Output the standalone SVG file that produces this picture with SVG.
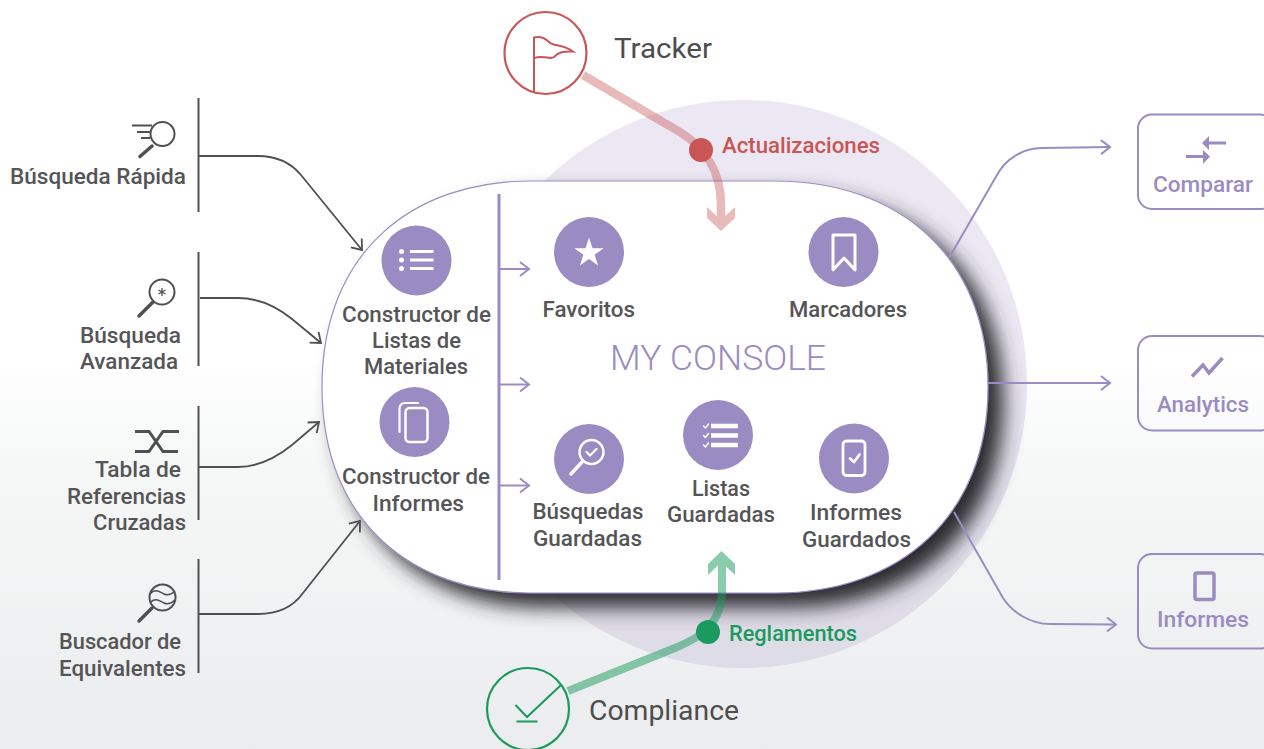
<svg xmlns="http://www.w3.org/2000/svg" width="1264" height="749" viewBox="0 0 1264 749">
<style>
text{font-family:Roboto,"Noto Sans","Liberation Sans",sans-serif;font-weight:500;fill:#555557;font-size:22px}
.big{font-size:28px;font-weight:400;fill:#4d4d4f}
.r{fill:#c95555}
.g{fill:#1a9a5e}
.ic{fill:#9a8cc2}
.w{fill:none;stroke:#fff;stroke-linecap:round;stroke-linejoin:round}
.d{fill:none;stroke:#505052;stroke-width:2}
.k{fill:none;stroke:#505052;stroke-width:1.8;marker-end:url(#ad)}
.v{fill:none;stroke:#9a8cc2;stroke-width:2;marker-end:url(#av)}
.pi{fill:none;stroke:#9a8cc2}
.box{fill:none;stroke:#9a8cc2;stroke-width:2}
</style>
<defs>
<linearGradient id="bg" x1="0" y1="0" x2="0" y2="1">
<stop offset="0" stop-color="#fff"/><stop offset=".48" stop-color="#fff"/><stop offset=".62" stop-color="#f6f7f7"/><stop offset="1" stop-color="#ebeced"/>
</linearGradient>
<filter id="sh" filterUnits="userSpaceOnUse" x="260" y="120" width="820" height="560">
<feGaussianBlur in="SourceAlpha" stdDeviation="10"/>
<feOffset dx="15" dy="14" result="b"/>
<feFlood flood-color="#2c2c30" flood-opacity="1"/>
<feComposite in2="b" operator="in"/>
<feMerge><feMergeNode/><feMergeNode in="SourceGraphic"/></feMerge>
</filter>
<marker id="ad" markerUnits="userSpaceOnUse" markerWidth="16" markerHeight="18" refX="12" refY="8" orient="auto" viewBox="0 0 16 16"><path d="M3 1L12 8L3 15" fill="none" stroke="#505052" stroke-width="1.8"/></marker>
<marker id="av" markerUnits="userSpaceOnUse" markerWidth="16" markerHeight="18" refX="12" refY="8" orient="auto" viewBox="0 0 16 16"><path d="M3 1L12 8L3 15" fill="none" stroke="#9a8cc2" stroke-width="2"/></marker>
</defs>
<rect id="background" width="1264" height="749" fill="url(#bg)"/>
<circle id="halo" cx="743" cy="384" r="284" fill="#9a8cc2" fill-opacity=".2"/>
<path id="console-panel" d="M322 387C322 250 415 181 530 181H775C900 181 988 258 988 387C988 516 900 593 775 593H530C415 593 322 524 322 387Z" fill="#fff" stroke="#9a8cc2" stroke-width="1.200" filter="url(#sh)"/>
<g id="connectors">
<path class="k" d="M198 156H258C278 156 291 163 301 175L362 250"/>
<path class="k" d="M200 298H238C258 298 277 307 292 319L321 343"/>
<path class="k" d="M198 467H238C258 467 277 457 292 445L319 422"/>
<path class="k" d="M198 614H258C278 614 293 607 303 593L360 521"/>
<path class="v" d="M949 258L997 175C1005 160 1022 148 1042 148L1110 147"/>
<path class="v" d="M988 383H1110"/>
<path class="v" d="M954 512L1003 598C1012 612 1030 624 1050 624L1116 624.500"/>
<path d="M499 194V580" fill="none" stroke="#9a8cc2" stroke-width="3"/>
<path class="v" d="M500 269H529"/>
<path class="v" d="M500 384.500H529"/>
<path class="v" d="M500 485.500H529"/>
<g opacity=".4"><path d="M583 75L680 132C705 148 721 170 721 205V222" fill="none" stroke="#c95555" stroke-width="8.500"/><path class="r" d="M707 207V218L721 231L735 218V207L721 220Z"/></g>
<g opacity=".5"><path d="M568 691L675 648C705 636 722 620 722 590V558" fill="none" stroke="#1a9a5e" stroke-width="8"/><path class="g" d="M708 575V564L721.500 551L735 564V575L721.500 562Z"/></g>
<circle class="r" cx="701" cy="150" r="12"/>
<circle class="g" cx="708" cy="632" r="12"/>
</g>
<g id="left-1">
<path class="d" d="M198.500 98V212"/>
<circle class="d" cx="162.500" cy="134" r="12"/>
<path d="M152 146L140 156.500" fill="none" stroke="#505052" stroke-width="3.500" stroke-linecap="round"/>
<path class="d" d="M132 125.500H152M137 132H150M141 138H150"/>
<text x="10" y="184" textLength="176" lengthAdjust="spacingAndGlyphs">Búsqueda Rápida</text>
</g>
<g id="left-2">
<path class="d" d="M198.500 252V366"/>
<circle class="d" cx="162" cy="292" r="12.500"/>
<path d="M153 302L139 316" fill="none" stroke="#505052" stroke-width="3.500" stroke-linecap="round"/>
<path d="M162 288V296M158.500 290L165.500 294M158.500 294L165.500 290" fill="none" stroke="#505052" stroke-width="1.300"/>
<text x="80" y="343" textLength="101" lengthAdjust="spacingAndGlyphs">Búsqueda</text>
<text x="80" y="369" textLength="98" lengthAdjust="spacingAndGlyphs">Avanzada</text>
</g>
<g id="left-3">
<path class="d" d="M198.500 406V520"/>
<path d="M135 431.500H149L163 451.500H178M135 451.500H149L163 431.500H179" fill="none" stroke="#505052" stroke-width="3"/>
<text x="95" y="477" textLength="86" lengthAdjust="spacingAndGlyphs">Tabla de</text>
<text x="67" y="504" textLength="119" lengthAdjust="spacingAndGlyphs">Referencias</text>
<text x="93" y="530" textLength="93" lengthAdjust="spacingAndGlyphs">Cruzadas</text>
</g>
<g id="left-4">
<path class="d" d="M198.500 559V673"/>
<circle class="d" cx="162.500" cy="597.500" r="13"/>
<path d="M152 608L139 621" fill="none" stroke="#505052" stroke-width="3.500" stroke-linecap="round"/>
<path d="M150 594C155 588 160 592 164 594C168 596 172 594 175 591M150 603C155 597 160 601 164 603C168 605 172 603 175 600" fill="none" stroke="#505052" stroke-width="1.500"/>
<text x="59" y="649" textLength="122" lengthAdjust="spacingAndGlyphs">Buscador de</text>
<text x="59" y="676" textLength="127" lengthAdjust="spacingAndGlyphs">Equivalentes</text>
</g>
<g id="tracker">
<circle cx="545.500" cy="53" r="41" fill="none" stroke="#c95555" stroke-width="2.200"/>
<path d="M534 92V37.500C540 36 545 38 549 42C554 47 561 43 573 51.500C562 51 558 53 554 57C550 60 545 55 534 58" fill="none" stroke="#c95555" stroke-width="2"/>
<text class="big" x="614" y="58" textLength="98" lengthAdjust="spacingAndGlyphs">Tracker</text>
<text x="722" y="153" textLength="158" lengthAdjust="spacingAndGlyphs" style="fill:#c95555">Actualizaciones</text>
</g>
<g id="compliance">
<circle cx="528" cy="709" r="41" fill="none" stroke="#1a9a5e" stroke-width="2.200"/>
<path d="M561 685L527 717L515.500 705M516.500 721.500H537.500" fill="none" stroke="#1a9a5e" stroke-width="2"/>
<text class="big" x="589" y="720" textLength="150" lengthAdjust="spacingAndGlyphs">Compliance</text>
<text x="729" y="641" textLength="128" lengthAdjust="spacingAndGlyphs" style="fill:#1a9a5e">Reglamentos</text>
</g>
<g id="constructor-listas">
<circle class="ic" cx="416.500" cy="260.500" r="35"/>
<path class="w" d="M410 251.500H433.500M410 260H433.500M410 268.500H433.500" stroke-width="3" style="stroke-linecap:butt"/>
<circle cx="401.500" cy="251.500" r="2.500" fill="#fff"/><circle cx="401.500" cy="260" r="2.500" fill="#fff"/><circle cx="401.500" cy="268.500" r="2.500" fill="#fff"/>
<text x="342" y="322" textLength="149" lengthAdjust="spacingAndGlyphs">Constructor de</text>
<text x="372" y="348" textLength="89" lengthAdjust="spacingAndGlyphs">Listas de</text>
<text x="364" y="374" textLength="104" lengthAdjust="spacingAndGlyphs">Materiales</text>
</g>
<g id="constructor-informes">
<circle class="ic" cx="414.500" cy="422" r="35"/>
<rect class="w" x="405.500" y="408" width="22" height="34" rx="4" stroke-width="2.500"/>
<path class="w" d="M399.500 432V409Q399.500 403 405.500 403H418" stroke-width="2.200"/>
<text x="342" y="484" textLength="148" lengthAdjust="spacingAndGlyphs">Constructor de</text>
<text x="372.500" y="511" textLength="91.500" lengthAdjust="spacingAndGlyphs">Informes</text>
</g>
<g id="favoritos">
<circle class="ic" cx="589" cy="252" r="35"/>
<polygon fill="#fff" points="589,237.500 592.500,248.200 603.700,248.200 594.600,254.800 598.100,265.500 589,258.900 579.900,265.500 583.400,254.800 574.300,248.200 585.500,248.200"/>
<text x="542.500" y="317" textLength="92.500" lengthAdjust="spacingAndGlyphs">Favoritos</text>
</g>
<g id="marcadores">
<circle class="ic" cx="843.500" cy="252" r="35"/>
<path class="w" d="M833 235H855V270L844 258L833 270Z" stroke-width="3"/>
<text x="789" y="317" textLength="118" lengthAdjust="spacingAndGlyphs">Marcadores</text>
</g>
<text id="title" x="610" y="370" textLength="216" lengthAdjust="spacingAndGlyphs" style="fill:#9a8cc2;font-size:35px;font-weight:300">MY CONSOLE</text>
<g id="busquedas-guardadas">
<circle class="ic" cx="589" cy="459" r="35"/>
<circle class="w" cx="591.500" cy="452" r="12" stroke-width="2.500"/>
<path class="w" d="M571 474L582 462" stroke-width="3.500"/>
<path class="w" d="M586.500 452L590 455.500L596.500 449" stroke-width="2.200"/>
<text x="532.500" y="519" textLength="111" lengthAdjust="spacingAndGlyphs">Búsquedas</text>
<text x="533" y="546" textLength="109" lengthAdjust="spacingAndGlyphs">Guardadas</text>
</g>
<g id="listas-guardadas">
<circle class="ic" cx="718" cy="435" r="35"/>
<path class="w" d="M711 426H738M711 435.500H738M711 445H738" stroke-width="4.500" style="stroke-linecap:butt"/>
<path class="w" d="M703.500 426L705.500 428L708.500 424M703.500 435.500L705.500 437.500L708.500 433.500M703.500 445L705.500 447L708.500 443" stroke-width="1.500"/>
<text x="692" y="496" textLength="58" lengthAdjust="spacingAndGlyphs">Listas</text>
<text x="667" y="522" textLength="108" lengthAdjust="spacingAndGlyphs">Guardadas</text>
</g>
<g id="informes-guardados">
<circle class="ic" cx="854" cy="458.500" r="35"/>
<rect class="w" x="843" y="441" width="22" height="34.500" rx="3.500" stroke-width="2.800"/>
<path class="w" d="M850 458.500L854 462L859.500 454.500" stroke-width="2.800"/>
<text x="810" y="520" textLength="92" lengthAdjust="spacingAndGlyphs">Informes</text>
<text x="802" y="547" textLength="109" lengthAdjust="spacingAndGlyphs">Guardados</text>
</g>
<g id="comparar">
<rect class="box" x="1138" y="114.500" width="136" height="94.500" rx="14"/>
<path class="pi" d="M1226 143H1207M1186 156.500H1205" stroke-width="3.200"/>
<path class="ic" d="M1202 143L1209 136V150ZM1210 156.500L1203 150V164Z"/>
<text x="1153" y="192" textLength="100" lengthAdjust="spacingAndGlyphs" style="fill:#9a8cc2">Comparar</text>
</g>
<g id="analytics">
<rect class="box" x="1138" y="336" width="136" height="94.500" rx="14"/>
<path class="pi" d="M1192 376.500L1203 365L1209 373L1222.500 358" stroke-width="3.500"/>
<text x="1157" y="412" textLength="92" lengthAdjust="spacingAndGlyphs" style="fill:#9a8cc2">Analytics</text>
</g>
<g id="informes">
<rect class="box" x="1138" y="554" width="136" height="94.500" rx="14"/>
<rect x="1195" y="573" width="19" height="26.500" rx="2" fill="none" stroke="#9a8cc2" stroke-width="3.500"/>
<text x="1157" y="627" textLength="92" lengthAdjust="spacingAndGlyphs" style="fill:#9a8cc2">Informes</text>
</g>
</svg>
